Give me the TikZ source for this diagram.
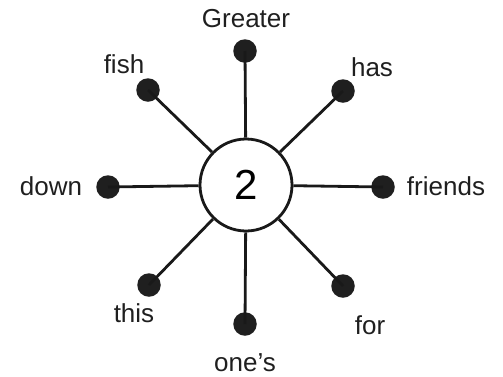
\documentclass[tikz,border=0pt]{standalone}
\usepackage{fontspec}
\setmainfont{Liberation Sans}
\begin{document}
\begin{tikzpicture}[x=1pt,y=-1pt,
  spoke/.style={line width=2.8pt, color=black!90},
  dotnode/.style={circle, fill=black!88, inner sep=0pt, minimum size=23.5pt},
  hub/.style={circle, draw=black!90, line width=2.8pt, fill=white, minimum size=92pt, inner sep=0pt, font=\fontsize{42}{42}\selectfont},
  lbl/.style={font=\fontsize{26}{26}\selectfont, inner sep=0pt, text=black!88}]
\useasboundingbox (0,0) rectangle (503,376);
\node[hub] (c) at (246,185) {2};
\node[dotnode] (n) at (245,51) {};
\node[dotnode] (ne) at (343,91) {};
\node[dotnode] (e) at (383,187) {};
\node[dotnode] (se) at (343,286) {};
\node[dotnode] (s) at (245,324) {};
\node[dotnode] (sw) at (149,285) {};
\node[dotnode] (w) at (108,187) {};
\node[dotnode] (nw) at (148,90) {};
\foreach \d in {n,ne,e,se,s,sw,w,nw} \draw[spoke] (c) -- (\d.center);
\node[lbl, anchor=base] (tn) at (246,27) {Greater};
\node[lbl, anchor=base] (tne) at (372,76) {has};
\node[lbl, anchor=base] (te) at (446,195) {friends};
\node[lbl, anchor=base] (tse) at (370,334) {for};
\node[lbl, anchor=base] (ts) at (245,371) {one’s};
\node[lbl, anchor=base] (tsw) at (134,322) {this};
\node[lbl, anchor=base] (tw) at (51,195) {down};
\node[lbl, anchor=base] (tnw) at (124,73) {fish};
\end{tikzpicture}
\end{document}
